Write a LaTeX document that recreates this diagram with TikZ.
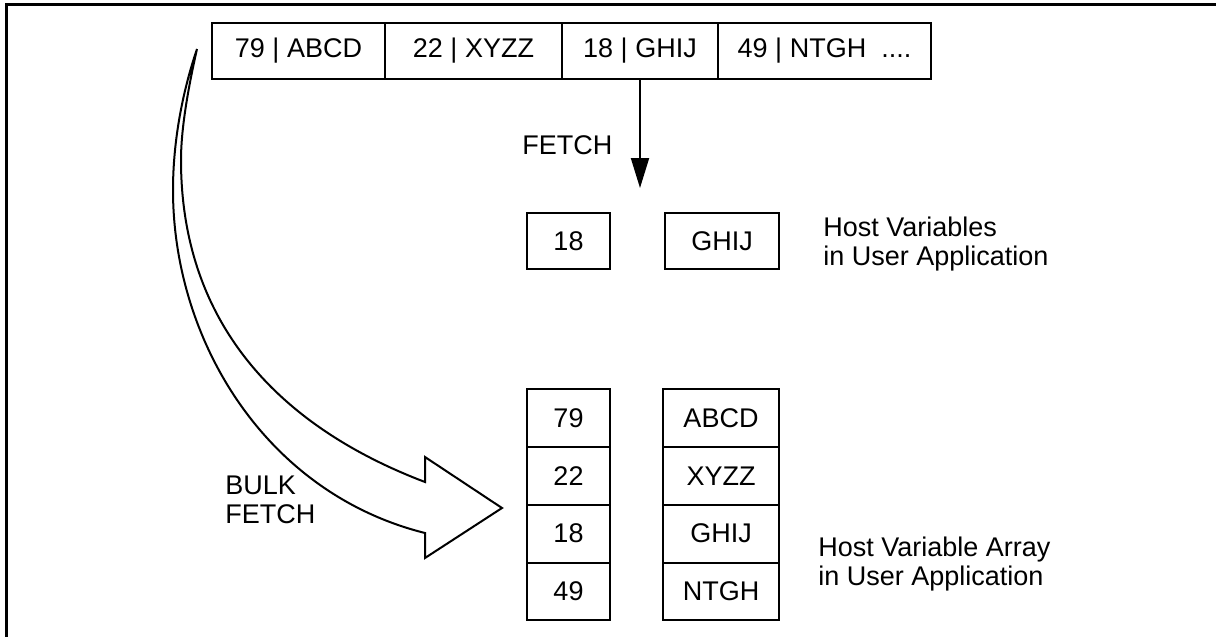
\documentclass[tikz,border=0pt]{standalone}
\usepackage{fontspec}
\setsansfont{Liberation Sans}
\usepackage{tikz}
\usetikzlibrary{arrows.meta, positioning}

\begin{document}
\begin{tikzpicture}[x=0.5pt, y=-0.5pt, node distance=0pt, every node/.style={font=\sffamily\fontsize{13.5}{14.3}\selectfont}]
    \tikzstyle{cell} = [rectangle, draw=black, line width=1pt, outer sep=0pt, inner sep=0pt, minimum height=28pt, align=center]
    \tikzstyle{slot} = [cell, minimum height=28.9pt]
    \tikzstyle{note} = [align=left, anchor=west, inner sep=0pt]

    \useasboundingbox (0,0) rectangle (1216,637);
    \draw[line width=1.5pt] (6.5,637) -- (6.5,4.5) -- (1216,4.5);

    \node[cell, minimum width=86.5pt] (rowA) at (298.5,51) {79 | ABCD};
    \node[cell, minimum width=88.5pt, right=of rowA] (rowB) {22 | XYZZ};
    \node[cell, minimum width=78pt, right=of rowB] (rowC) {18 | GHIJ};
    \node[cell, minimum width=106.5pt, right=of rowC] (rowD) {49 | NTGH\ \ ....};

    \node[cell, minimum width=41.5pt] (hostnum) at (568.5,241) {18};
    \node[cell, minimum width=57pt] (hoststr) at (722,241) {GHIJ};

    \node[slot, minimum width=41.5pt] (numA) at (568.5,418) {79};
    \node[slot, minimum width=41.5pt, below=of numA] (numB) {22};
    \node[slot, minimum width=41.5pt, below=of numB] (numC) {18};
    \node[slot, minimum width=41.5pt, below=of numC] (numD) {49};
    \node[slot, minimum width=58pt] (strA) at (721,418) {ABCD};
    \node[slot, minimum width=58pt, below=of strA] (strB) {XYZZ};
    \node[slot, minimum width=58pt, below=of strB] (strC) {GHIJ};
    \node[slot, minimum width=58pt, below=of strC] (strD) {NTGH};

    \node[note] (fetchlbl) at (522,145) {FETCH};
    \node[note] (hostlbl) at (823,244) {Host Variables\\in User Application};
    \node[note] (arraylbl) at (818,564) {Host Variable Array\\in User Application};
    \node[note] (bulklbl) at (225,500) {BULK\\FETCH};

    \coordinate (fetchend) at (640,188);
    \draw[line width=1pt, -{Triangle[width=9pt,length=15pt]}] (rowC.south) -- (fetchend);

    \draw[line width=1pt, line join=miter]
        (197,49) .. controls (183,90) and (173,140) .. (173,190)
        .. controls (173,340) and (265,493) .. (425,533)
        -- (425,558) -- (502,508) -- (425,457) -- (425,482)
        .. controls (275,425) and (181,320) .. (181,160)
        .. controls (181,125) and (190,80) .. cycle;
\end{tikzpicture}
\end{document}
